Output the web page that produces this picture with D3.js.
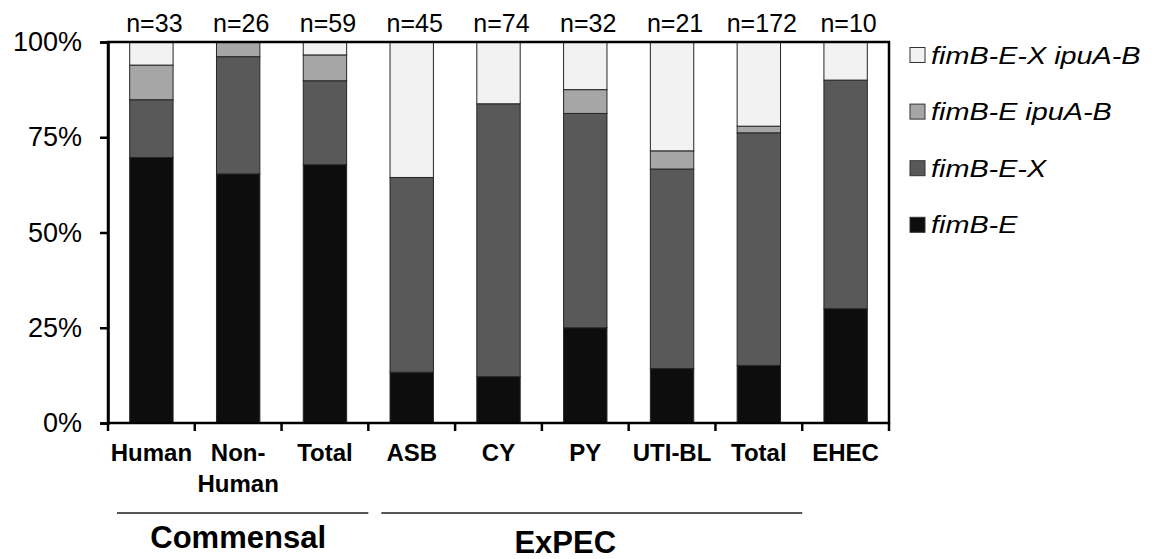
<!DOCTYPE html>
<html>
<head>
<meta charset="utf-8">
<script src="https://cdn.jsdelivr.net/npm/d3@7"></script>
<style>
  body { margin: 0; background: #fff; }
  svg text { font-family: "Liberation Sans", Arial, sans-serif; fill: #000; }
</style>
</head>
<body>
<svg id="chart" width="1154" height="559"></svg>
<script>
// categories along the x axis (Total appears twice, so bars are keyed by index)
var categories = ["Human", "Non-Human", "Total", "ASB", "CY", "PY", "UTI-BL", "Total", "EHEC"]
var labelLines = [["Human"], ["Non-", "Human"], ["Total"], ["ASB"], ["CY"], ["PY"], ["UTI-BL"], ["Total"], ["EHEC"]]

// isolate counts per genotype
var fimB_E = [23, 17, 40, 6, 9, 8, 3, 26, 3]
var fimB_E_X = [5, 8, 13, 23, 53, 18, 11, 105, 6]
var fimB_E_ipuA_B = [3, 1, 4, 0, 0, 2, 1, 3, 0]
var fimB_E_X_ipuA_B = [2, 0, 2, 16, 12, 4, 6, 38, 1]

var nLabels = ["n=33", "n=26", "n=59", "n=45", "n=74", "n=32", "n=21", "n=172", "n=10"]
var yTicks = [0, 0.25, 0.5, 0.75, 1]

var seriesKeys = ["fimB-E", "fimB-E-X", "fimB-E ipuA-B", "fimB-E-X ipuA-B"]
var seriesColors = ["#0d0d0d", "#595959", "#a6a6a6", "#f2f2f2"]

// groups under the axis: first and last category index covered by the bracket
var groups = [
    { name: "Commensal", from: 0, to: 2 },
    { name: "ExPEC", from: 3, to: 7 }
]

var rows = categories.map(function (c, i) {
    return {
        idx: i,
        "fimB-E": fimB_E[i],
        "fimB-E-X": fimB_E_X[i],
        "fimB-E ipuA-B": fimB_E_ipuA_B[i],
        "fimB-E-X ipuA-B": fimB_E_X_ipuA_B[i]
    }
})

var svg = d3.select("#chart")
var plotLeft = 108, plotRight = 889, plotTop = 42, plotBottom = 423

var x = d3.scaleBand()
    .domain(d3.range(categories.length))
    .range([plotLeft, plotRight])
    .padding(0)

var y = d3.scaleLinear()
    .domain([0, 1])
    .range([plotBottom, plotTop])

var color = d3.scaleOrdinal()
    .domain(seriesKeys)
    .range(seriesColors)

var stacked = d3.stack()
    .keys(seriesKeys)
    .offset(d3.stackOffsetExpand)(rows)

//bars
svg.append("g")
    .selectAll("g")
    .data(stacked)
    .enter().append("g")
    .attr("fill", function (d) { return color(d.key) })
    .selectAll("rect")
    .data(function (d) { return d })
    .enter().append("rect")
    .attr("x", function (d) { return x(d.data.idx) + x.bandwidth() * 0.25 })
    .attr("width", x.bandwidth() * 0.5)
    .attr("y", function (d) { return y(d[1]) })
    .attr("height", function (d) { return y(d[0]) - y(d[1]) })
    .style("stroke", function (d) { return d[1] - d[0] > 0 ? "#262626" : "none" })
    .style("stroke-width", 1)

//plot frame
svg.append("rect")
    .attr("x", plotLeft)
    .attr("y", plotTop)
    .attr("width", plotRight - plotLeft)
    .attr("height", plotBottom - plotTop)
    .attr("fill", "none")
    .attr("stroke", "#000")
    .attr("stroke-width", 2.5)

//y axis
var yAxis = svg.append("g")
    .attr("transform", "translate(" + plotLeft + ",0)")
    .call(d3.axisLeft(y).tickValues(yTicks).tickFormat(d3.format(".0%")).tickSize(8).tickPadding(18))
yAxis.select(".domain").attr("stroke-width", 2.5)
yAxis.selectAll(".tick line").attr("stroke-width", 2.5)
yAxis.selectAll("text")
    .style("font-size", "27px")
    .attr("fill", "#000")

//x ticks at band edges
var edges = d3.range(categories.length + 1).map(function (i) { return plotLeft + x.step() * i })
svg.append("g")
    .selectAll("line")
    .data(edges)
    .enter().append("line")
    .attr("x1", function (d) { return d })
    .attr("x2", function (d) { return d })
    .attr("y1", plotBottom)
    .attr("y2", plotBottom + 8)
    .attr("stroke", "#000")
    .attr("stroke-width", 2.5)

//category labels
var catLabels = svg.append("g")
    .selectAll("text")
    .data(labelLines)
    .enter().append("text")
    .attr("text-anchor", "middle")
    .attr("x", function (d, i) { return x(i) + x.bandwidth() / 2 })
    .attr("y", 461)
    .style("font-size", "24px")
    .style("font-weight", "bold")
catLabels.selectAll("tspan")
    .data(function (d) { return d })
    .enter().append("tspan")
    .attr("x", function () { return d3.select(this.parentNode).attr("x") })
    .attr("dy", function (d, i) { return i == 0 ? 0 : 31 })
    .text(function (d) { return d })

//n labels
svg.append("g")
    .selectAll("text")
    .data(nLabels)
    .enter().append("text")
    .attr("text-anchor", "middle")
    .attr("x", function (d, i) { return x(i) + x.bandwidth() / 2 + 3 })
    .attr("y", 32)
    .style("font-size", "25px")
    .text(function (d) { return d })

//group brackets
var grp = svg.append("g")
    .selectAll("g")
    .data(groups)
    .enter().append("g")
grp.append("line")
    .attr("x1", function (d, i) { return x(d.from) + (i == 0 ? 9 : 13) })
    .attr("x2", function (d) { return x(d.to) + x.step() })
    .attr("y1", 513)
    .attr("y2", 513)
    .attr("stroke", "#555")
    .attr("stroke-width", 2)
grp.append("text")
    .attr("text-anchor", "middle")
    .attr("x", function (d, i) { return (x(d.from) + x(d.to) + x.step()) / 2 + (i == 0 ? 0 : -20) })
    .attr("y", function (d, i) { return i == 0 ? 548 : 553 })
    .style("font-size", "31px")
    .style("font-weight", "bold")
    .text(function (d) { return d.name })

//legend (top to bottom: reverse of stack order)
var legendKeys = seriesKeys.slice().reverse()
var legend = svg.append("g")
    .selectAll("g")
    .data(legendKeys)
    .enter().append("g")
    .attr("transform", function (d, i) { return "translate(910," + (63.5 + i * 56.6) + ")" })
legend.append("rect")
    .attr("x", 0)
    .attr("y", -16)
    .attr("width", 15)
    .attr("height", 15)
    .attr("fill", function (d) { return color(d) })
    .attr("stroke", "#333")
    .attr("stroke-width", 1)
legend.append("text")
    .attr("transform", "translate(21,0) scale(1.2,1)")
    .style("font-size", "24px")
    .style("font-style", "italic")
    .text(function (d) { return d })
</script>
</body>
</html>
